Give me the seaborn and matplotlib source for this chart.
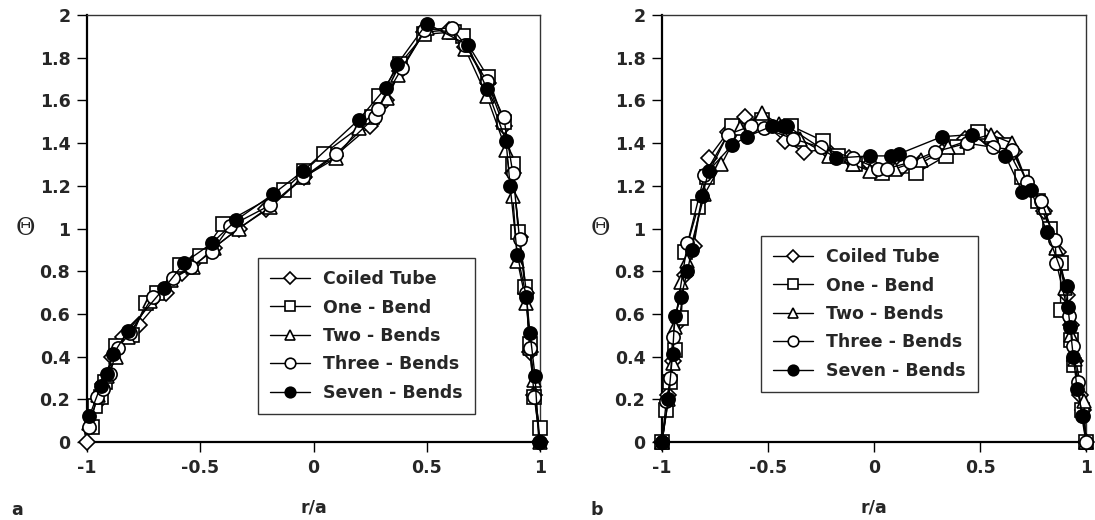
import matplotlib
matplotlib.use("Agg")
import matplotlib.pyplot as plt
import seaborn as sns
import pandas as pd

# ---------------- data ----------------
series_names = ["Coiled Tube", "One - Bend", "Two - Bends", "Three - Bends", "Seven - Bends"]
x_ticks = [-1, -0.5, 0, 0.5, 1]
x_tick_labels = ["-1", "-0.5", "0", "0.5", "1"]
y_ticks = [0, 0.2, 0.4, 0.6, 0.8, 1.0, 1.2, 1.4, 1.6, 1.8, 2.0]
y_tick_labels = ["0", "0.2", "0.4", "0.6", "0.8", "1", "1.2", "1.4", "1.6", "1.8", "2"]

# Panel a
a_coiled_x = [-1.0, -0.96, -0.93, -0.89, -0.84, -0.77, -0.65, -0.58, -0.51, -0.44, -0.33, -0.21, -0.04, 0.095, 0.25, 0.32, 0.38, 0.49, 0.60, 0.67, 0.77, 0.84, 0.88, 0.91, 0.94, 0.956, 0.975, 1.0]
a_coiled_y = [0.0, 0.18, 0.27, 0.40, 0.49, 0.55, 0.70, 0.79, 0.86, 0.91, 1.00, 1.09, 1.24, 1.34, 1.48, 1.60, 1.74, 1.92, 1.93, 1.85, 1.68, 1.48, 1.26, 0.96, 0.70, 0.42, 0.22, 0.0]
a_one_x = [-0.98, -0.965, -0.94, -0.92, -0.87, -0.80, -0.74, -0.69, -0.59, -0.50, -0.40, -0.13, -0.04, 0.045, 0.26, 0.29, 0.38, 0.49, 0.62, 0.66, 0.77, 0.84, 0.88, 0.904, 0.934, 0.956, 0.975, 1.0]
a_one_y = [0.07, 0.17, 0.21, 0.28, 0.45, 0.50, 0.65, 0.70, 0.83, 0.87, 1.02, 1.18, 1.27, 1.35, 1.52, 1.62, 1.77, 1.91, 1.92, 1.90, 1.71, 1.50, 1.30, 0.985, 0.727, 0.46, 0.21, 0.065]
a_two_x = [-0.99, -0.95, -0.91, -0.87, -0.82, -0.72, -0.63, -0.53, -0.44, -0.33, -0.19, -0.045, 0.10, 0.20, 0.325, 0.375, 0.50, 0.60, 0.67, 0.765, 0.85, 0.88, 0.90, 0.94, 0.956, 0.975, 1.0]
a_two_y = [0.09, 0.22, 0.31, 0.40, 0.49, 0.66, 0.76, 0.82, 0.91, 1.00, 1.10, 1.24, 1.33, 1.47, 1.61, 1.72, 1.94, 1.92, 1.84, 1.62, 1.37, 1.15, 0.85, 0.65, 0.44, 0.29, 0.0]
a_three_x = [-0.99, -0.955, -0.93, -0.90, -0.865, -0.81, -0.71, -0.62, -0.54, -0.45, -0.37, -0.19, -0.045, 0.10, 0.27, 0.285, 0.39, 0.49, 0.61, 0.67, 0.765, 0.84, 0.88, 0.91, 0.94, 0.955, 0.975, 1.0]
a_three_y = [0.07, 0.21, 0.25, 0.32, 0.44, 0.51, 0.68, 0.77, 0.82, 0.89, 1.01, 1.11, 1.24, 1.35, 1.52, 1.56, 1.75, 1.93, 1.94, 1.86, 1.69, 1.52, 1.26, 0.95, 0.70, 0.44, 0.21, 0.0]
a_seven_x = [-0.99, -0.94, -0.91, -0.885, -0.82, -0.66, -0.57, -0.45, -0.34, -0.18, -0.045, 0.20, 0.32, 0.37, 0.50, 0.68, 0.765, 0.85, 0.868, 0.90, 0.94, 0.956, 0.978, 0.995]
a_seven_y = [0.12, 0.26, 0.32, 0.41, 0.52, 0.72, 0.84, 0.93, 1.04, 1.16, 1.27, 1.51, 1.66, 1.77, 1.96, 1.86, 1.655, 1.41, 1.20, 0.876, 0.68, 0.51, 0.31, 0.0]

# Panel b
b_coiled_x = [-1.0, -0.97, -0.95, -0.92, -0.89, -0.85, -0.78, -0.69, -0.61, -0.53, -0.42, -0.33, -0.22, -0.12, -0.02, 0.13, 0.21, 0.32, 0.43, 0.53, 0.58, 0.66, 0.73, 0.80, 0.87, 0.91, 0.93, 0.95, 0.97, 0.985, 1.0]
b_coiled_y = [0.0, 0.22, 0.38, 0.56, 0.78, 0.92, 1.33, 1.45, 1.52, 1.50, 1.41, 1.36, 1.37, 1.33, 1.30, 1.29, 1.30, 1.36, 1.42, 1.43, 1.42, 1.36, 1.19, 1.08, 0.89, 0.69, 0.55, 0.38, 0.22, 0.15, 0.0]
b_one_x = [-1.0, -0.98, -0.96, -0.94, -0.91, -0.89, -0.83, -0.79, -0.67, -0.53, -0.39, -0.24, -0.17, -0.09, 0.04, 0.20, 0.34, 0.39, 0.49, 0.62, 0.70, 0.775, 0.83, 0.88, 0.88, 0.93, 0.945, 0.98, 1.0]
b_one_y = [0.0, 0.15, 0.28, 0.43, 0.58, 0.89, 1.10, 1.24, 1.48, 1.51, 1.48, 1.41, 1.34, 1.30, 1.26, 1.26, 1.34, 1.38, 1.45, 1.39, 1.24, 1.13, 1.00, 0.84, 0.62, 0.48, 0.36, 0.15, 0.0]
b_two_x = [-1.0, -0.97, -0.95, -0.94, -0.91, -0.88, -0.80, -0.72, -0.63, -0.53, -0.45, -0.35, -0.21, -0.10, -0.02, 0.10, 0.22, 0.35, 0.44, 0.55, 0.65, 0.72, 0.80, 0.86, 0.90, 0.93, 0.95, 0.99, 1.0]
b_two_y = [0.0, 0.20, 0.37, 0.54, 0.75, 0.85, 1.16, 1.30, 1.47, 1.54, 1.49, 1.42, 1.34, 1.30, 1.27, 1.28, 1.32, 1.38, 1.41, 1.44, 1.40, 1.22, 1.10, 0.91, 0.72, 0.50, 0.39, 0.19, 0.0]
b_three_x = [-1.0, -0.98, -0.96, -0.95, -0.88, -0.80, -0.69, -0.58, -0.52, -0.38, -0.25, -0.10, 0.02, 0.06, 0.17, 0.29, 0.44, 0.56, 0.65, 0.72, 0.79, 0.854, 0.86, 0.92, 0.94, 0.96, 0.98, 1.0]
b_three_y = [0.0, 0.19, 0.30, 0.49, 0.93, 1.25, 1.44, 1.48, 1.47, 1.42, 1.38, 1.33, 1.28, 1.28, 1.31, 1.36, 1.40, 1.38, 1.37, 1.22, 1.13, 0.946, 0.84, 0.59, 0.45, 0.28, 0.12, 0.0]
b_seven_x = [-1.0, -0.97, -0.95, -0.94, -0.91, -0.88, -0.86, -0.81, -0.78, -0.67, -0.60, -0.48, -0.43, -0.41, -0.18, -0.02, 0.08, 0.12, 0.32, 0.46, 0.62, 0.70, 0.74, 0.815, 0.91, 0.915, 0.925, 0.94, 0.958, 0.985]
b_seven_y = [0.0, 0.20, 0.41, 0.59, 0.68, 0.80, 0.90, 1.15, 1.27, 1.39, 1.43, 1.48, 1.48, 1.48, 1.33, 1.34, 1.34, 1.35, 1.43, 1.44, 1.34, 1.17, 1.18, 0.985, 0.73, 0.63, 0.54, 0.40, 0.25, 0.12]

panel_a = [(a_coiled_x, a_coiled_y), (a_one_x, a_one_y), (a_two_x, a_two_y),
           (a_three_x, a_three_y), (a_seven_x, a_seven_y)]
panel_b = [(b_coiled_x, b_coiled_y), (b_one_x, b_one_y), (b_two_x, b_two_y),
           (b_three_x, b_three_y), (b_seven_x, b_seven_y)]

markers = ["D", "s", "^", "o", "o"]
marker_sizes = [8, 9.5, 9.5, 9.5, 9.5]
face_colors = ["white", "white", "white", "white", "black"]

# ---------------- style ----------------
sns.set_style("ticks")
plt.rcParams["font.family"] = ["DejaVu Sans"]
plt.rcParams["font.weight"] = "bold"

FS = 12.5
fig = plt.figure(figsize=(10.95, 5.2), dpi=100)
W, H = 1095, 520
ax_a = fig.add_axes([87 / W, (H - 442) / H, 453 / W, 427 / H])
ax_b = fig.add_axes([662 / W, (H - 442) / H, 424 / W, 427 / H])


def draw(ax, panel, leg_anchor, ax_w):
    for (xs, ys), name, m, ms, fc in zip(panel, series_names, markers, marker_sizes, face_colors):
        df = pd.DataFrame({"r": xs, "theta": ys})
        sns.lineplot(data=df, x="r", y="theta", ax=ax, sort=False, estimator=None,
                     color="black", linewidth=1.0, marker=m, markersize=ms,
                     markerfacecolor=fc, markeredgecolor="black", markeredgewidth=1.2,
                     label=name, clip_on=False, zorder=3)
    ax.set_xlim(-1, 1)
    ax.set_ylim(0, 2)
    ax.set_xticks(x_ticks)
    ax.set_xticklabels(x_tick_labels)
    ax.set_yticks(y_ticks)
    ax.set_yticklabels(y_tick_labels)
    ax.tick_params(axis="both", direction="out", length=7, width=1.0, labelsize=FS, color="black")
    ax.tick_params(axis="x", pad=5)
    ax.tick_params(axis="y", pad=5)
    for lab in ax.get_xticklabels() + ax.get_yticklabels():
        lab.set_fontweight("bold")
    for s in ["left", "bottom"]:
        ax.spines[s].set_linewidth(1.6)
        ax.spines[s].set_color("black")
    for s in ["top", "right"]:
        ax.spines[s].set_visible(True)
        ax.spines[s].set_linewidth(1.0)
        ax.spines[s].set_color("#333333")
    ax.set_xlabel("r/a", fontsize=FS, fontweight="bold")
    ax.xaxis.set_label_coords(0.5, -(508 - 442) / 427)
    ax.xaxis.label.set_va("center")
    ax.set_ylabel("Θ", rotation=0, fontsize=17, family="DejaVu Serif", fontweight="normal")
    ax.yaxis.set_label_coords(-62 / ax_w, 0.5)
    ax.yaxis.label.set_va("center")
    ax.yaxis.label.set_ha("center")
    leg = ax.legend(loc="upper left", bbox_to_anchor=leg_anchor,
                    frameon=True, fancybox=False, shadow=False, edgecolor="#333333",
                    handlelength=2.3, handletextpad=0.75, labelspacing=0.6,
                    borderpad=0.7, markerscale=0.8, borderaxespad=0.0,
                    prop={"weight": "bold", "size": FS, "family": "DejaVu Sans"})
    leg.get_frame().set_linewidth(1.0)
    leg.get_frame().set_alpha(1.0)


draw(ax_a, panel_a, ((258 - 87) / 453, (442 - 258) / 427), 453)
draw(ax_b, panel_b, ((761 - 662) / 424, (442 - 236) / 427), 424)

fig.text(17 / W, 1 - 510 / H, "a", ha="center", va="center", fontsize=FS, fontweight="bold")
fig.text(597 / W, 1 - 510 / H, "b", ha="center", va="center", fontsize=FS, fontweight="bold")

fig.savefig("out.png", dpi=100)
